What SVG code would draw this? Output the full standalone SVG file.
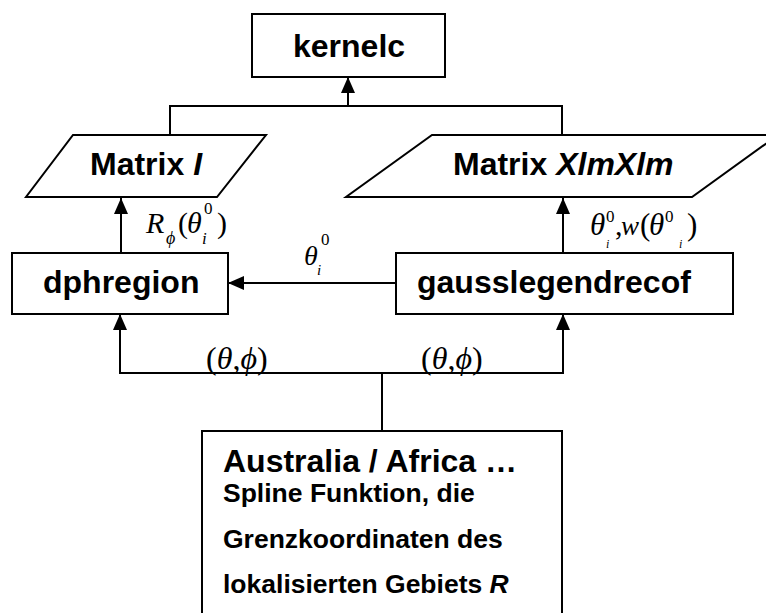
<svg xmlns="http://www.w3.org/2000/svg" width="766" height="613" viewBox="0 0 766 613">
  <style>
    .box { fill: #ffffff; stroke: #000000; stroke-width: 2; }
    .wire { fill: none; stroke: #000000; stroke-width: 2; }
    .title { font-family: "Liberation Sans", Arial, sans-serif; font-weight: bold; font-size: 32px; fill: #000000; }
    .body { font-family: "Liberation Sans", Arial, sans-serif; font-weight: bold; font-size: 26.5px; fill: #000000; }
    .it { font-style: italic; }
    .math { font-family: "Liberation Serif", "DejaVu Serif", serif; fill: #000000; }
  </style>
  <defs>
    <marker id="arrow" markerUnits="userSpaceOnUse" markerWidth="16" markerHeight="14" refX="16" refY="7" orient="auto">
      <path d="M0,0 L16,7 L0,14 Z" fill="#000000"/>
    </marker>
  </defs>

  <rect width="766" height="613" fill="#ffffff"/>

  <!-- connectors -->
  <g id="connectors">
    <!-- Matrix outputs merge into kernelc -->
    <polyline class="wire" points="170,135 170,106 562,106 562,135"/>
    <line class="wire" x1="348" y1="106" x2="348" y2="77" marker-end="url(#arrow)"/>
    <!-- dphregion -> Matrix I -->
    <line class="wire" x1="121" y1="253" x2="121" y2="198" marker-end="url(#arrow)"/>
    <!-- gausslegendrecof -> Matrix XlmXlm -->
    <line class="wire" x1="563" y1="253" x2="563" y2="198" marker-end="url(#arrow)"/>
    <!-- gausslegendrecof -> dphregion -->
    <line class="wire" x1="396" y1="283" x2="228" y2="283" marker-end="url(#arrow)"/>
    <!-- region boundary feeds both routines -->
    <line class="wire" x1="382" y1="431" x2="382" y2="373"/>
    <polyline class="wire" points="120,314 120,373 563,373 563,314"/>
    <line class="wire" x1="120" y1="340" x2="120" y2="314" marker-end="url(#arrow)"/>
    <line class="wire" x1="563" y1="340" x2="563" y2="314" marker-end="url(#arrow)"/>
  </g>

  <!-- connector labels -->
  <g id="labels" class="math">
    <!-- R_phi(theta_i^0) -->
    <text x="146" y="233" font-size="30" font-style="italic">R</text>
    <text x="166" y="244" font-size="18" font-style="italic">ϕ</text>
    <text x="178" y="233" font-size="30">(</text>
    <text x="187" y="233" font-size="30" font-style="italic">θ</text>
    <text x="204" y="214" font-size="17">0</text>
    <text x="202" y="244" font-size="17" font-style="italic">i</text>
    <text x="217" y="233" font-size="30">)</text>

    <!-- theta_i^0 -->
    <text x="304" y="265" font-size="28" font-style="italic">θ</text>
    <text x="321" y="245" font-size="17">0</text>
    <text x="317" y="275" font-size="15" font-style="italic">i</text>

    <!-- theta_i^0, w(theta_i^0) -->
    <text x="590" y="235" font-size="31" font-style="italic">θ</text>
    <text x="606" y="222" font-size="17">0</text>
    <text x="606" y="248" font-size="12" font-style="italic">i</text>
    <text x="615" y="235" font-size="30">,</text>
    <text x="621" y="235" font-size="27" font-style="italic">w</text>
    <text x="640" y="235" font-size="31">(</text>
    <text x="649" y="235" font-size="31" font-style="italic">θ</text>
    <text x="665" y="222" font-size="17">0</text>
    <text x="679" y="248" font-size="12" font-style="italic">i</text>
    <text x="687" y="235" font-size="31">)</text>

    <!-- (theta, phi) on both branches -->
    <text x="206" y="369" font-size="32">(<tspan font-style="italic">θ</tspan>,<tspan font-style="italic">ϕ</tspan>)</text>
    <text x="421" y="369" font-size="32">(<tspan font-style="italic">θ</tspan>,<tspan font-style="italic">ϕ</tspan>)</text>
  </g>

  <!-- nodes -->
  <g id="kernelc">
    <rect class="box" x="252" y="14" width="193" height="63"/>
    <text class="title" x="293" y="57">kernelc</text>
  </g>

  <g id="matrix-i">
    <polygon class="box" points="73,135 266,135 217,197 26,197"/>
    <text class="title" x="90" y="175">Matrix <tspan class="it">I</tspan></text>
  </g>

  <g id="matrix-xlmxlm">
    <polygon class="box" points="432,135 778,135 692,197 346,197"/>
    <text class="title" x="453" y="175">Matrix <tspan class="it">XlmXlm</tspan></text>
  </g>

  <g id="dphregion">
    <rect class="box" x="12" y="253" width="216" height="61"/>
    <text class="title" x="43" y="293">dphregion</text>
  </g>

  <g id="gausslegendrecof">
    <rect class="box" x="396" y="253" width="337" height="61"/>
    <text class="title" x="417" y="293">gausslegendrecof</text>
  </g>

  <g id="region">
    <rect class="box" x="202" y="431" width="360" height="200"/>
    <text class="title" x="223" y="472">Australia / Africa …</text>
    <text class="body" x="223" y="502">Spline Funktion, die</text>
    <text class="body" x="223" y="548">Grenzkoordinaten des</text>
    <text class="body" x="223" y="593">lokalisierten Gebiets <tspan class="it">R</tspan></text>
  </g>
</svg>
